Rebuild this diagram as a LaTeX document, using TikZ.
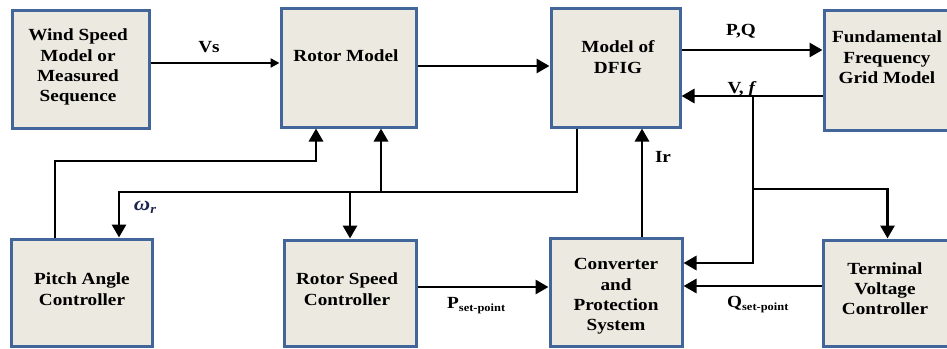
\documentclass[tikz,border=0pt]{standalone}
\usepackage{fontspec}
\setmainfont{Liberation Serif}[FakeStretch=1.13]
\usetikzlibrary{arrows.meta}
\definecolor{boxfill}{HTML}{EBE9E0}
\definecolor{boxline}{HTML}{43669A}
\definecolor{omegacol}{HTML}{1C2550}
\tikzset{
  blk/.style={draw=boxline, fill=boxfill, line width=3pt, inner sep=0pt, rectangle},
  txt/.style={font=\fontsize{17}{20.3}\selectfont\bfseries, align=center, inner sep=0pt},
  lbl/.style={font=\fontsize{17}{20.3}\selectfont\bfseries, inner sep=0pt},
  conn/.style={line width=2.9pt, line join=miter},
  arr/.style={conn, -{Triangle[length=13pt,width=14pt]}},
  arrs/.style={conn, -{Triangle[length=9pt,width=9pt]}},
}
\newcommand{\sps}[1]{\raisebox{-3pt}{\fontsize{11}{12}\selectfont #1}}
\newcommand{\omr}{\textit{\fontsize{20}{22}\selectfont ω\raisebox{-3pt}{\fontsize{13}{14}\selectfont r}}}
\begin{document}
\begin{tikzpicture}[x=1pt,y=-1pt]
\useasboundingbox (0,0) rectangle (947,348);
% boxes
\node[blk, minimum width=137pt, minimum height=118pt] (wind) at (80.5,69) {};
\node[blk, minimum width=135pt, minimum height=119pt] (rotor) at (348.5,67.5) {};
\node[blk, minimum width=129pt, minimum height=119pt] (dfig) at (615.5,67.5) {};
\node[blk, minimum width=128pt, minimum height=120pt] (grid) at (888,70) {};
\node[blk, minimum width=141pt, minimum height=107pt] (pitch) at (81.5,292.5) {};
\node[blk, minimum width=132pt, minimum height=106pt] (rspeed) at (350,293) {};
\node[blk, minimum width=132pt, minimum height=108pt] (conv) at (616,292) {};
\node[blk, minimum width=129pt, minimum height=106pt] (term) at (887.5,293) {};
% box texts
\node[txt] (twind) at (78,67.1) {Wind Speed\\Model or\\Measured\\Sequence};
\node[txt, anchor=base] (trotor) at (346,61) {Rotor Model};
\node[txt] (tdfig) at (618,57.2) {Model of\\DFIG};
\node[txt] (tgrid) at (887,57.2) {Fundamental\\Frequency\\Grid Model};
\node[txt] (tpitch) at (82,289.2) {Pitch Angle\\Controller};
\node[txt] (trspeed) at (347,289.2) {Rotor Speed\\Controller};
\node[txt] (tconv) at (616,296.4) {Converter\\and\\Protection\\System};
\node[txt] (tterm) at (885,288.7) {Terminal\\Voltage\\Controller};
% connectors
\draw[arrs] (wind.east |- 0,63) -- (rotor.west |- 0,63);
\draw[arr] (rotor.east |- 0,66) -- (dfig.west |- 0,66);
\draw[arr] (dfig.east |- 0,50) -- (grid.west |- 0,50);
\draw[arr] (grid.west |- 0,96) -- (dfig.east |- 0,96);
\coordinate (vj) at (753,96);
\coordinate (tj) at (753,189);
\draw[arr] (vj) -- (vj |- 0,263) -- (conv.east |- 0,263);
\draw[arr] (tj) -- (term.north |- tj) -- (term.north);
\draw[arr] (conv.north -| 642,0) -- (dfig.south -| 642,0);
\coordinate (wj) at (577,192);
\draw[arr] (dfig.south -| wj) -- (wj) -- (119,192) -- (pitch.north -| 119,0);
\draw[arr] (381,192) -- (rotor.south -| 381,0);
\draw[arr] (rspeed.north |- wj) -- (rspeed.north);
\draw[arr] (pitch.north -| 55,0) -- (55,161) -- (316,161) -- (rotor.south -| 316,0);
\draw[arr] (rspeed.east |- 0,287) -- (conv.west |- 0,287);
\draw[arr] (term.west |- 0,286) -- (conv.east |- 0,286);
% labels
\node[lbl, anchor=base] (lvs) at (209,52) {Vs};
\node[lbl, anchor=base] (lpq) at (741,35) {P,Q};
\node[lbl, anchor=base] (lvf) at (742,93) {V, \textit{f}};
\node[lbl, anchor=base] (lir) at (663,162) {Ir};
\node[lbl, anchor=base, text=omegacol] (lomega) at (145,210) {\omr};
\node[lbl, anchor=base west] (lp) at (447,308) {P\sps{set-point}};
\node[lbl, anchor=base west] (lq) at (727,307) {Q\sps{set-point}};
\end{tikzpicture}
\end{document}
